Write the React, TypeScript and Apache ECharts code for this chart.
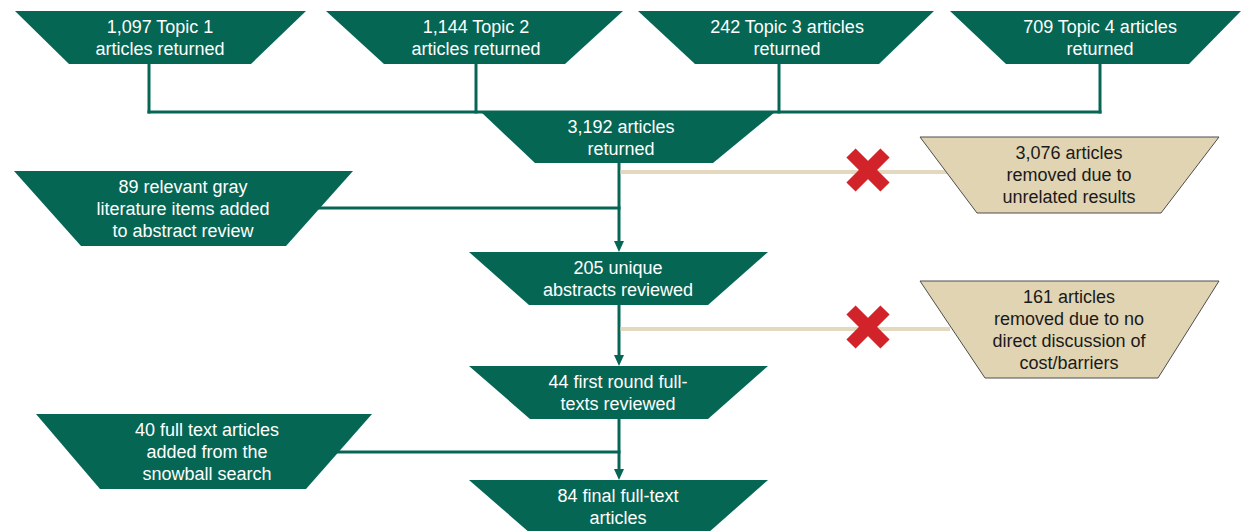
import React, { useEffect, useRef } from "react";
import * as echarts from "echarts";

// ---- Data (texts and counts) ----
const topicCounts = ["1,097", "1,144", "242", "709"];
const topicLabels = [
  `${topicCounts[0]} Topic 1\narticles returned`,
  `${topicCounts[1]} Topic 2\narticles returned`,
  `${topicCounts[2]} Topic 3 articles\nreturned`,
  `${topicCounts[3]} Topic 4 articles\nreturned`,
];
const mainCounts = ["3,192", "205", "44", "84"];
const mainLabels = [
  `${mainCounts[0]} articles\nreturned`,
  `${mainCounts[1]} unique\nabstracts reviewed`,
  `${mainCounts[2]} first round full-\ntexts reviewed`,
  `${mainCounts[3]} final full-text\narticles`,
];
const addedCounts = ["89", "40"];
const addedLabels = [
  `${addedCounts[0]} relevant gray\nliterature items added\nto abstract review`,
  `${addedCounts[1]} full text articles\nadded from the\nsnowball search`,
];
const removedCounts = ["3,076", "161"];
const removedLabels = [
  `${removedCounts[0]} articles\nremoved due to\nunrelated results`,
  `${removedCounts[1]} articles\nremoved due to no\ndirect discussion of\ncost/barriers`,
];

// ---- Layout (positions / sizes) ----
type Trap = { y0: number; y1: number; tl: number; tr: number; bl: number; br: number; cx: number };
const topLayout: Trap[] = [
  { y0: 11, y1: 64, tl: 15, tr: 306, bl: 69, br: 251, cx: 160 },
  { y0: 11, y1: 64, tl: 326, tr: 623, bl: 384, br: 565, cx: 476 },
  { y0: 11, y1: 64, tl: 638, tr: 934, bl: 695, br: 879, cx: 787 },
  { y0: 11, y1: 64, tl: 950, tr: 1241, bl: 1006, br: 1189, cx: 1100 },
];
const topDrop = [149, 476, 779, 1100];
const mainLayout: Trap[] = [
  { y0: 112, y1: 163, tl: 481, tr: 775, bl: 535, br: 713, cx: 621 },
  { y0: 252, y1: 305, tl: 469, tr: 768, bl: 529, br: 708, cx: 618 },
  { y0: 366, y1: 419, tl: 469, tr: 768, bl: 530, br: 708, cx: 618 },
  { y0: 480, y1: 533, tl: 469, tr: 768, bl: 530, br: 708, cx: 618 },
];
const addedLayout: Trap[] = [
  { y0: 171, y1: 246, tl: 14, tr: 353, bl: 81, br: 286, cx: 183 },
  { y0: 414, y1: 489, tl: 36, tr: 372, bl: 100, br: 306, cx: 207 },
];
const addedJoinY = [208, 452];
const removedLayout: Trap[] = [
  { y0: 137, y1: 213, tl: 920, tr: 1219, bl: 977, br: 1161, cx: 1069 },
  { y0: 281, y1: 378, tl: 920, tr: 1219, bl: 985, br: 1158, cx: 1069 },
];
const removedLineY = [172, 329];
const crossY = [170, 327];
const crossX = 868;
const spineX = 619;

const GREEN = "#066654";
const BEIGE = "#E1D4B3";
const BEIGE_LINE = "#E4D9BE";
const RED = "#D2222A";
const FONT = "'Liberation Sans', Arial, sans-serif";

function trapPoly(t: Trap, fill: string, stroke?: string): any {
  return {
    type: "polygon",
    shape: { points: [[t.tl, t.y0], [t.tr, t.y0], [t.br, t.y1], [t.bl, t.y1]] },
    style: stroke ? { fill, stroke, lineWidth: 1 } : { fill },
  };
}
function trapText(t: Trap, text: string, color: string): any {
  return {
    type: "text",
    x: t.cx,
    y: (t.y0 + t.y1) / 2,
    style: {
      text,
      fill: color,
      font: `18px ${FONT}`,
      lineHeight: 22,
      align: "center",
      verticalAlign: "middle",
    },
  };
}
function line(x1: number, y1: number, x2: number, y2: number, stroke: string, w: number): any {
  return { type: "line", shape: { x1, y1, x2, y2 }, style: { stroke, lineWidth: w } };
}
function arrow(x: number, tipY: number): any[] {
  return [
    { type: "polygon", shape: { points: [[x - 5, tipY - 11], [x + 5, tipY - 11], [x, tipY]] }, style: { fill: GREEN } },
  ];
}

export default function App() {
  const ref = useRef<HTMLDivElement>(null);
  useEffect(() => {
    document.body.style.margin = "0";
    if (!ref.current) return;
    const chart = echarts.init(ref.current, null, { renderer: "svg" });
    const els: any[] = [];

    // connectors from topic boxes
    const joinY = 112;
    topDrop.forEach((x) => els.push(line(x, 64, x, joinY + 1.5, GREEN, 3)));
    els.push(line(topDrop[0] - 1.5, joinY, topDrop[topDrop.length - 1] + 1.5, joinY, GREEN, 3));

    // spine between main boxes
    for (let i = 0; i < mainLayout.length - 1; i++) {
      const a = mainLayout[i];
      const b = mainLayout[i + 1];
      els.push(line(spineX, a.y1, spineX, b.y0 - 9, GREEN, 3));
      els.push(...arrow(spineX, b.y0));
    }
    // added connectors
    addedLayout.forEach((t, i) => {
      els.push(line(t.br, addedJoinY[i], spineX + 1.5, addedJoinY[i], GREEN, 3));
    });
    // removed connectors
    removedLayout.forEach((t, i) => {
      els.push(line(spineX + 1.5, removedLineY[i], t.tl + 30, removedLineY[i], BEIGE_LINE, 4));
    });

    topLayout.forEach((t, i) => {
      els.push(trapPoly(t, GREEN));
      els.push(trapText(t, topicLabels[i], "#ffffff"));
    });
    mainLayout.forEach((t, i) => {
      els.push(trapPoly(t, GREEN));
      els.push(trapText(t, mainLabels[i], "#ffffff"));
    });
    addedLayout.forEach((t, i) => {
      els.push(trapPoly(t, GREEN));
      els.push(trapText(t, addedLabels[i], "#ffffff"));
    });
    removedLayout.forEach((t, i) => {
      els.push(trapPoly(t, BEIGE, "#4d4d4d"));
      els.push(trapText(t, removedLabels[i], "#1a1a1a"));
    });

    // red crosses
    crossY.forEach((cy) => {
      const d = 17;
      els.push(line(crossX - d, cy - d, crossX + d, cy + d, RED, 13));
      els.push(line(crossX + d, cy - d, crossX - d, cy + d, RED, 13));
    });

    chart.setOption({
      animation: false,
      backgroundColor: "#ffffff",
      graphic: { elements: els },
    });
    return () => chart.dispose();
  }, []);
  return <div ref={ref} style={{ width: 1242, height: 531 }} />;
}
